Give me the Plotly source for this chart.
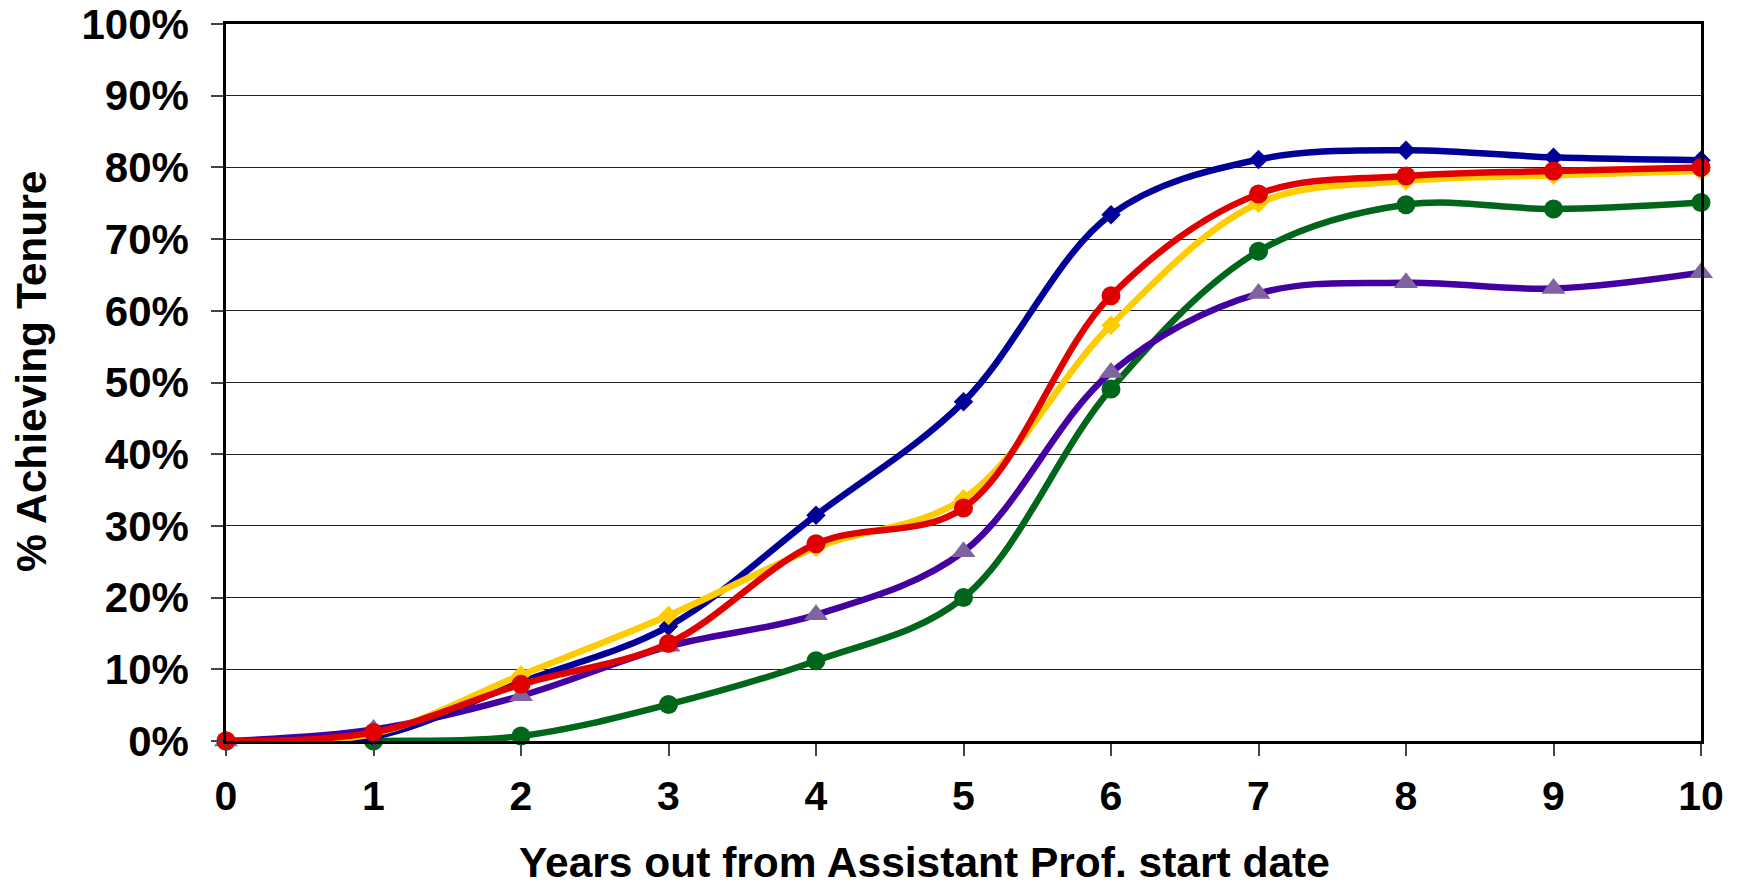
import plotly.graph_objects as go

years = [0, 1, 2, 3, 4, 5, 6, 7, 8, 9, 10]
tick_vals_y = [0, 10, 20, 30, 40, 50, 60, 70, 80, 90, 100]
tick_text_y = ["0%", "10%", "20%", "30%", "40%", "50%", "60%", "70%", "80%", "90%", "100%"]

blue_vals = [0, 0.6, 8.2, 16.0, 31.5, 47.3, 73.4, 81.1, 82.4, 81.4, 81.0]
yellow_vals = [0, 1.0, 9.2, 17.5, 27.0, 33.8, 58.0, 75.0, 78.1, 78.9, 79.5]
red_vals = [0, 1.2, 7.9, 13.6, 27.5, 32.5, 62.1, 76.3, 78.8, 79.5, 80.0]
purple_vals = [0, 1.6, 6.3, 13.2, 17.6, 26.4, 51.4, 62.4, 63.9, 63.1, 65.3]
green_vals = [0, 0, 0.7, 5.1, 11.2, 20.0, 49.1, 68.3, 74.8, 74.2, 75.1]

FONT = "Arial, 'Liberation Sans', sans-serif"

series = [
    # (values, line colour, marker symbol, marker colour, marker size)
    (green_vals, "#00661a", "circle", "#00661a", 19),
    (purple_vals, "#4400a0", "triangle-up", "#8064a2", 21),
    (blue_vals, "#000099", "diamond", "#000099", 15),
    (yellow_vals, "#ffcc00", "diamond", "#ffcc00", 15),
    (red_vals, "#e00000", "circle", "#e00000", 19),
]

fig = go.Figure()
for vals, lc, sym, mc, ms in series:
    fig.add_trace(go.Scatter(
        x=years, y=vals, mode="lines+markers",
        line=dict(color=lc, width=6.5, shape="spline", smoothing=1.0),
        marker=dict(symbol=sym, color=mc, size=ms, line=dict(width=0)),
        cliponaxis=False, showlegend=False, hoverinfo="skip",
    ))

fig.update_layout(
    width=1742, height=888,
    margin=dict(l=226, r=41, t=24, b=147, autoexpand=False),
    paper_bgcolor="white", plot_bgcolor="white",
    font=dict(family=FONT, color="black"),
    showlegend=False,
)

fig.update_xaxes(
    range=[0, 10], tickvals=years, ticktext=[str(v) for v in years],
    showgrid=False, zeroline=False, automargin=False,
    showline=True, linecolor="black", linewidth=3, mirror=True,
    ticks="outside", ticklen=12, tickwidth=1.5, tickcolor="#444",
    tickfont=dict(family=FONT, size=41, color="black", weight="bold"),
    ticklabelstandoff=5,
)
fig.update_yaxes(
    range=[0, 100], tickvals=tick_vals_y, ticktext=tick_text_y,
    showgrid=True, gridcolor="#222", gridwidth=1.2, zeroline=False, automargin=False,
    showline=True, linecolor="black", linewidth=2.5, mirror=True,
    ticks="outside", ticklen=12, tickwidth=1.5, tickcolor="#444",
    tickfont=dict(family=FONT, size=42, color="black", weight="bold"),
    ticklabelstandoff=14,
)

fig.add_annotation(
    text="<b>Years out from Assistant Prof. start date</b>",
    xref="paper", yref="paper", x=0.4738, y=-0.170,
    xanchor="center", yanchor="middle", showarrow=False,
    font=dict(family=FONT, size=42.5, color="black"),
)
fig.add_annotation(
    text="<b>% Achieving Tenure</b>",
    xref="paper", yref="paper", x=-0.132, y=0.515, textangle=-90,
    xanchor="center", yanchor="middle", showarrow=False,
    font=dict(family=FONT, size=42.5, color="black"),
)

fig.write_html(
    "out.html",
    config={"displayModeBar": False},
    post_script="document.body.style.margin='0';document.body.style.overflow='hidden';",
)
